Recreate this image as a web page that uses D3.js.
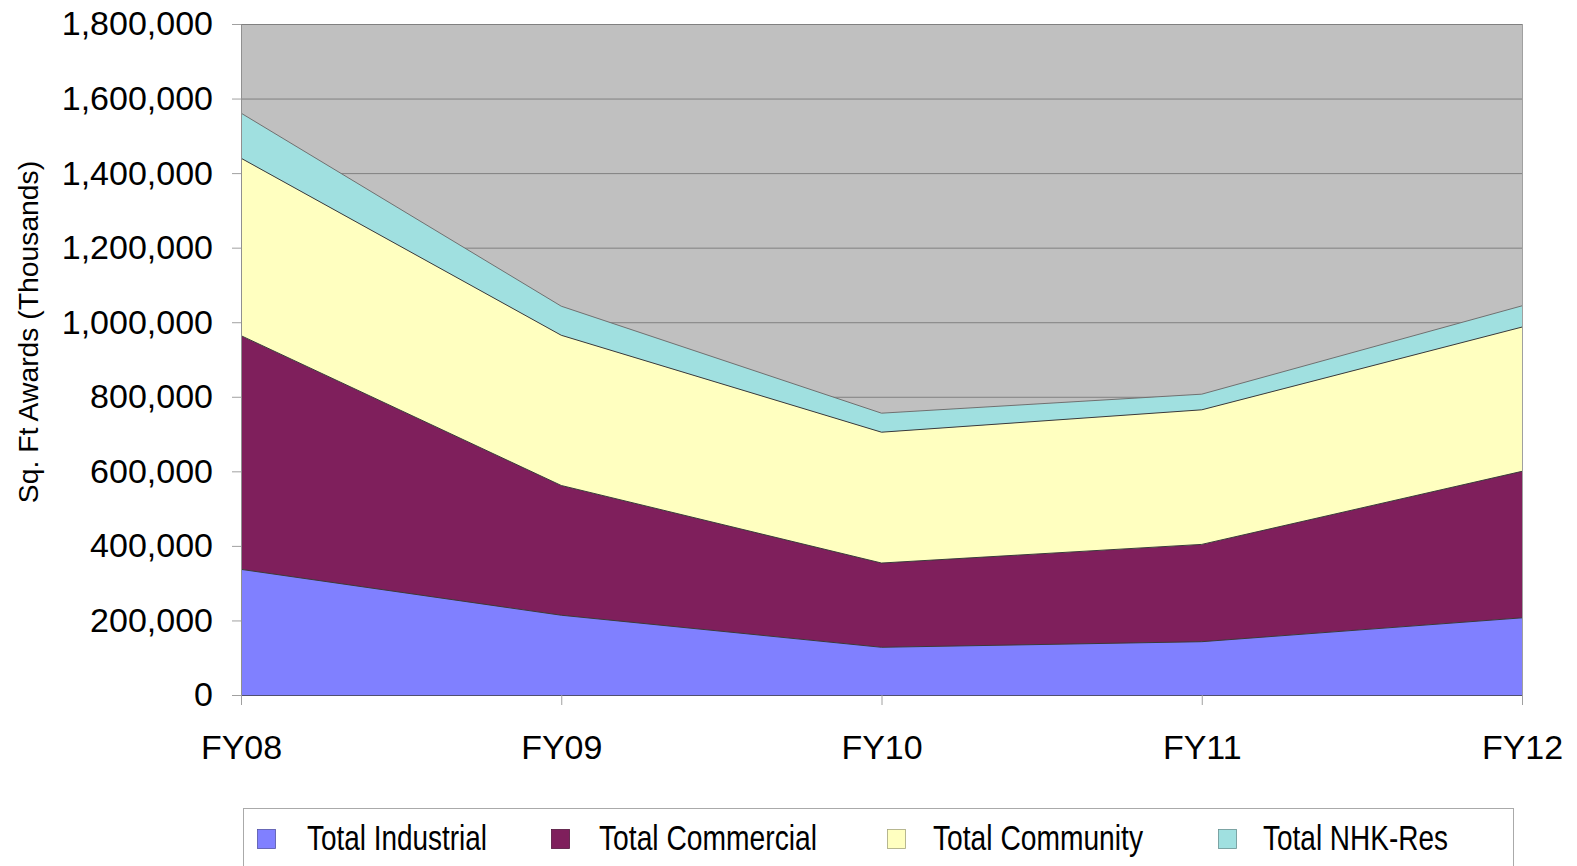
<!DOCTYPE html>
<html>
<head>
<meta charset="utf-8">
<script src="https://cdn.jsdelivr.net/npm/d3@7"></script>
<style>
  body { margin: 0; background: #fff; }
  svg { display: block; font-family: "Liberation Sans", Arial, sans-serif; }
</style>
</head>
<body>
<svg id="chart" width="1577" height="866"></svg>
<script>
"use strict";

// ==========  Data  ==========
var years      = ['FY08', 'FY09', 'FY10', 'FY11', 'FY12']
var industrial = [337000, 214000, 128000, 143000, 207000]
var commercial = [627000, 348000, 226000, 261000, 393000]
var community  = [476000, 403000, 351000, 361000, 387000]
var nhkRes     = [121000,  78000,  51000,  42000,  57000]
var seriesNames  = ['Total Industrial', 'Total Commercial', 'Total Community', 'Total NHK-Res']
var seriesColors = ['#8080ff', '#7f1f5c', '#ffffc0', '#a0e0e0']
var yTicks = [0, 200000, 400000, 600000, 800000, 1000000, 1200000, 1400000, 1600000, 1800000]

// ==========  Layout  ==========
var svg       = d3.select('#chart')
var plotLeft   = 241
var plotRight  = 1522
var plotTop    = 24
var plotBottom = 695

var x = d3.scalePoint().domain(years).range([plotLeft, plotRight])
var y = d3.scaleLinear().domain([0, 1800000]).range([plotBottom, plotTop])

var rows = years.map(function(yr, i) {
  return { year: yr, s0: industrial[i], s1: commercial[i], s2: community[i], s3: nhkRes[i] }
})
var stack  = d3.stack().keys(['s0', 's1', 's2', 's3'])
var layers = stack(rows)

// plot background
svg.append('rect')
   .attr('x', plotLeft).attr('y', plotTop)
   .attr('width', plotRight - plotLeft).attr('height', plotBottom - plotTop)
   .attr('fill', '#c0c0c0')

// grid lines
svg.append('g').selectAll('line')
   .data(yTicks.slice(1))
   .join('line')
   .attr('x1', plotLeft).attr('x2', plotRight)
   .attr('y1', function(d) { return y(d) + 0.5 })
   .attr('y2', function(d) { return y(d) + 0.5 })
   .attr('stroke', '#808080').attr('stroke-width', 1)

// right border
svg.append('line')
   .attr('x1', plotRight + 0.5).attr('x2', plotRight + 0.5)
   .attr('y1', plotTop).attr('y2', plotBottom)
   .attr('stroke', '#a0a0a0')

// areas
var area = d3.area()
  .x(function(d) { return x(d.data.year) })
  .y0(function(d) { return y(d[0]) })
  .y1(function(d) { return y(d[1]) })
var topLine = d3.line()
  .x(function(d) { return x(d.data.year) })
  .y(function(d) { return y(d[1]) })

svg.append('g').selectAll('path')
   .data(layers)
   .join('path')
   .attr('d', area)
   .attr('fill', function(d, i) { return seriesColors[i] })

svg.append('g').selectAll('path')
   .data(layers)
   .join('path')
   .attr('d', topLine)
   .attr('fill', 'none')
   .attr('stroke', function(d, i) { return i == 3 ? '#707070' : '#3a3a3a' })
   .attr('stroke-width', 1)

// y axis
var yAxis = d3.axisLeft(y)
  .tickValues(yTicks)
  .tickSize(9)
  .tickPadding(19)
  .tickFormat(d3.format(','))
var gy = svg.append('g').attr('transform', 'translate(' + plotLeft + ',0)').call(yAxis)
gy.select('.domain').attr('stroke', '#909090')
gy.selectAll('.tick line').attr('stroke', '#a0a0a0')
gy.selectAll('.tick text')
  .attr('font-size', 34).attr('fill', '#000')
  .attr('font-family', '"Liberation Sans", Arial, sans-serif')

// x axis
var xAxis = d3.axisBottom(x).tickSize(10).tickPadding(30)
var gx = svg.append('g').attr('transform', 'translate(0,' + plotBottom + ')').call(xAxis)
gx.select('.domain').attr('stroke', '#505070')
gx.selectAll('.tick line').attr('stroke', '#a0a0a0')
gx.selectAll('.tick text')
  .attr('font-size', 34).attr('fill', '#000')
  .attr('font-family', '"Liberation Sans", Arial, sans-serif')

// y title
svg.append('text')
   .attr('transform', 'translate(38,' + 332 + ') rotate(-90)')
   .attr('text-anchor', 'middle')
   .attr('font-size', 28.3)
   .text('Sq. Ft Awards (Thousands)')

// ==========  Legend  ==========
svg.append('rect')
   .attr('x', 243.5).attr('y', 808.5)
   .attr('width', 1270).attr('height', 80)
   .attr('fill', '#fff').attr('stroke', '#aaaaaa')

var legendSwatchX = [257, 551, 887, 1218]
var legendTextX   = [307, 599, 933, 1263]
var legendTextW   = [180, 218, 210, 185]
var legend = svg.append('g').selectAll('g')
  .data(seriesNames)
  .join('g')
legend.append('rect')
  .attr('x', function(d, i) { return legendSwatchX[i] + 0.5 })
  .attr('y', 829.5)
  .attr('width', 18).attr('height', 19)
  .attr('fill', function(d, i) { return seriesColors[i] })
  .attr('stroke', function(d, i) { return d3.color(seriesColors[i]).darker(1.2) })
  .attr('stroke-width', 0.8)
legend.append('text')
  .attr('x', function(d, i) { return legendTextX[i] })
  .attr('y', 850)
  .attr('font-size', 35)
  .attr('textLength', function(d, i) { return legendTextW[i] })
  .attr('lengthAdjust', 'spacingAndGlyphs')
  .text(function(d) { return d })
</script>
</body>
</html>
